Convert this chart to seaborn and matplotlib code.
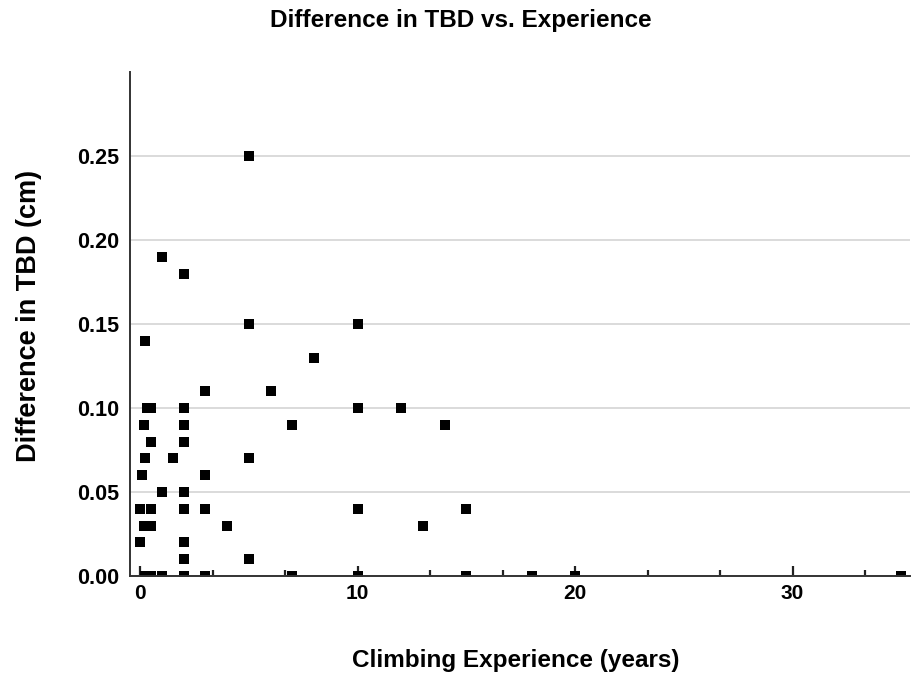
# Difference in TBD vs. Experience - scatter
import pandas as pd
import matplotlib
matplotlib.use('Agg')
import matplotlib.pyplot as plt
from matplotlib.ticker import MultipleLocator
import seaborn as sns

# climbing experience (years) and difference in TBD (cm)
experience = [5, 1, 2, 5, 10, 0.25, 8, 3, 6,
              0.33, 0.5, 2, 10, 12,
              0.2, 2, 7, 14,
              0.5, 2,
              0.25, 1.5, 5,
              0.1, 3,
              1, 2,
              0, 0.5, 2, 3, 10, 15,
              0.17, 0.5, 4, 13,
              0, 2,
              2, 5,
              0.25, 0.5, 1, 2, 3, 7, 10, 15, 18, 20, 35]
tbd_diff = [0.25, 0.19, 0.18, 0.15, 0.15, 0.14, 0.13, 0.11, 0.11,
            0.10, 0.10, 0.10, 0.10, 0.10,
            0.09, 0.09, 0.09, 0.09,
            0.08, 0.08,
            0.07, 0.07, 0.07,
            0.06, 0.06,
            0.05, 0.05,
            0.04, 0.04, 0.04, 0.04, 0.04, 0.04,
            0.03, 0.03, 0.03, 0.03,
            0.02, 0.02,
            0.01, 0.01,
            0, 0, 0, 0, 0, 0, 0, 0, 0, 0, 0]

y_ticks = [0.00, 0.05, 0.10, 0.15, 0.20, 0.25]
x_ticks = [0, 10, 20, 30]

df = pd.DataFrame({'Climbing Experience (years)': experience,
                   'Difference in TBD (cm)': tbd_diff})

sns.set_style('white')
plt.rcParams['font.family'] = ['Liberation Sans', 'DejaVu Sans']
plt.rcParams['text.color'] = 'black'
plt.rcParams['axes.labelcolor'] = 'black'
plt.rcParams['xtick.color'] = 'black'
plt.rcParams['ytick.color'] = 'black'

fig = plt.figure(figsize=(9.12, 6.77), dpi=100)
ax = fig.add_axes([130/912, 1-576/677, 780/912, 504/677])

sns.scatterplot(data=df, x='Climbing Experience (years)', y='Difference in TBD (cm)',
                marker='s', color='black', s=62, linewidth=0, ax=ax, zorder=3)

ax.set_xlim(-0.46, 35.4)
ax.set_ylim(0, 0.30)
ax.set_yticks(y_ticks)
ax.set_yticklabels([f'{v:.2f}' for v in y_ticks])
ax.set_xticks(x_ticks)
ax.xaxis.set_minor_locator(MultipleLocator(10/3))

ax.grid(axis='y', color='#d4d4d4', linewidth=1.2, zorder=0)
ax.set_axisbelow(True)
for side in ['top', 'right']:
    ax.spines[side].set_visible(False)
for side in ['left', 'bottom']:
    ax.spines[side].set_color('#333333')
    ax.spines[side].set_linewidth(1.4)
    ax.spines[side].set_zorder(4)

ax.tick_params(axis='y', left=False, length=0, pad=8, labelsize=15.5)
ax.tick_params(axis='x', which='major', bottom=True, direction='in', length=7,
               width=1.6, color='#222222', pad=6, labelsize=15)
ax.tick_params(axis='x', which='minor', bottom=True, direction='in', length=4,
               width=1.6, color='#222222')
for lab in ax.get_xticklabels() + ax.get_yticklabels():
    lab.set_fontweight('bold')

ax.set_xlabel('Climbing Experience (years)', fontsize=17.5, fontweight='bold')
ax.set_ylabel('Difference in TBD (cm)', fontsize=19.5, fontweight='bold')
ax.xaxis.set_label_coords(0.495, -0.145)
ax.yaxis.set_label_coords(-0.113, 0.516)

fig.text(0.505, 1 - 9/677, 'Difference in TBD vs. Experience',
         ha='center', va='top', fontsize=17.5, fontweight='bold')

fig.savefig('out.png', dpi=100)
